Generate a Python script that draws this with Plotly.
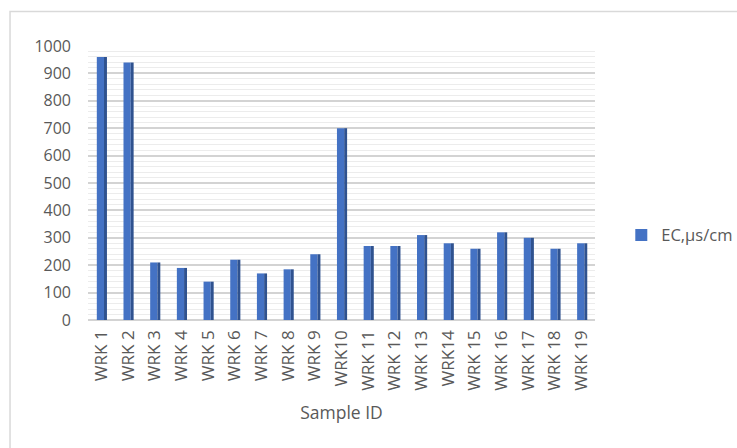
import plotly.graph_objects as go

categories = ["WRK 1", "WRK 2", "WRK 3", "WRK 4", "WRK 5", "WRK 6", "WRK 7", "WRK 8",
              "WRK 9", "WRK10", "WRK 11", "WRK 12", "WRK 13", "WRK14", "WRK 15",
              "WRK 16", "WRK 17", "WRK 18", "WRK 19"]
ec_values = [960, 940, 210, 190, 140, 220, 170, 185, 240, 700, 270, 270, 310, 280, 260,
             320, 300, 260, 280]
series_name = "EC,µs/cm"
y_ticks = list(range(0, 1001, 100))

font_family = "Open Sans, DejaVu Sans, sans-serif"
text_color = "#595959"

fig = go.Figure()
# front face of each bar
fig.add_trace(go.Bar(
    x=categories, y=ec_values, name=series_name,
    width=0.27, offset=-0.17,
    marker=dict(color="#4472C4", line=dict(width=0)),
    showlegend=True,
))
# darker side face (pseudo-3D)
fig.add_trace(go.Bar(
    x=categories, y=ec_values, name=series_name,
    width=0.11, offset=0.10,
    marker=dict(color="#2F528F", line=dict(width=0)),
    showlegend=False, hoverinfo="skip",
))

fig.update_layout(
    width=737, height=448,
    margin=dict(l=88, r=142, t=45.5, b=127.5, autoexpand=False),
    paper_bgcolor="white", plot_bgcolor="white",
    barmode="overlay",
    font=dict(family=font_family, size=16, color=text_color),
    legend=dict(
        xref="container", yref="container",
        x=0.843, y=0.475, xanchor="left", yanchor="middle",
        font=dict(size=16.5, color=text_color),
        itemwidth=30, bgcolor="rgba(0,0,0,0)",
    ),
    shapes=[dict(
        type="rect", xref="paper", yref="paper",
        x0=-0.1538, x1=2.0, y0=-1.0, y1=1.1255,
        line=dict(color="#d9d9d9", width=1.5), fillcolor="rgba(0,0,0,0)",
        layer="below",
    )],
)

fig.update_xaxes(
    type="category",
    tickangle=-90,
    tickfont=dict(size=17, color=text_color),
    showgrid=False, showline=False, ticks="",
    ticklabelstandoff=6,
    title=dict(text="Sample ID", font=dict(size=17.5, color=text_color), standoff=16),
)
fig.update_yaxes(
    range=[0, 1000],
    tickvals=y_ticks,
    tickfont=dict(size=16, color=text_color),
    showgrid=True, gridcolor="#d3d3d3", gridwidth=1.5,
    zeroline=True, zerolinecolor="#d3d3d3", zerolinewidth=1.5,
    showline=False, ticks="",
    ticklabelstandoff=16,
    minor=dict(dtick=20, showgrid=True, gridcolor="#ececec", gridwidth=1),
)

fig.write_html("out.html")
